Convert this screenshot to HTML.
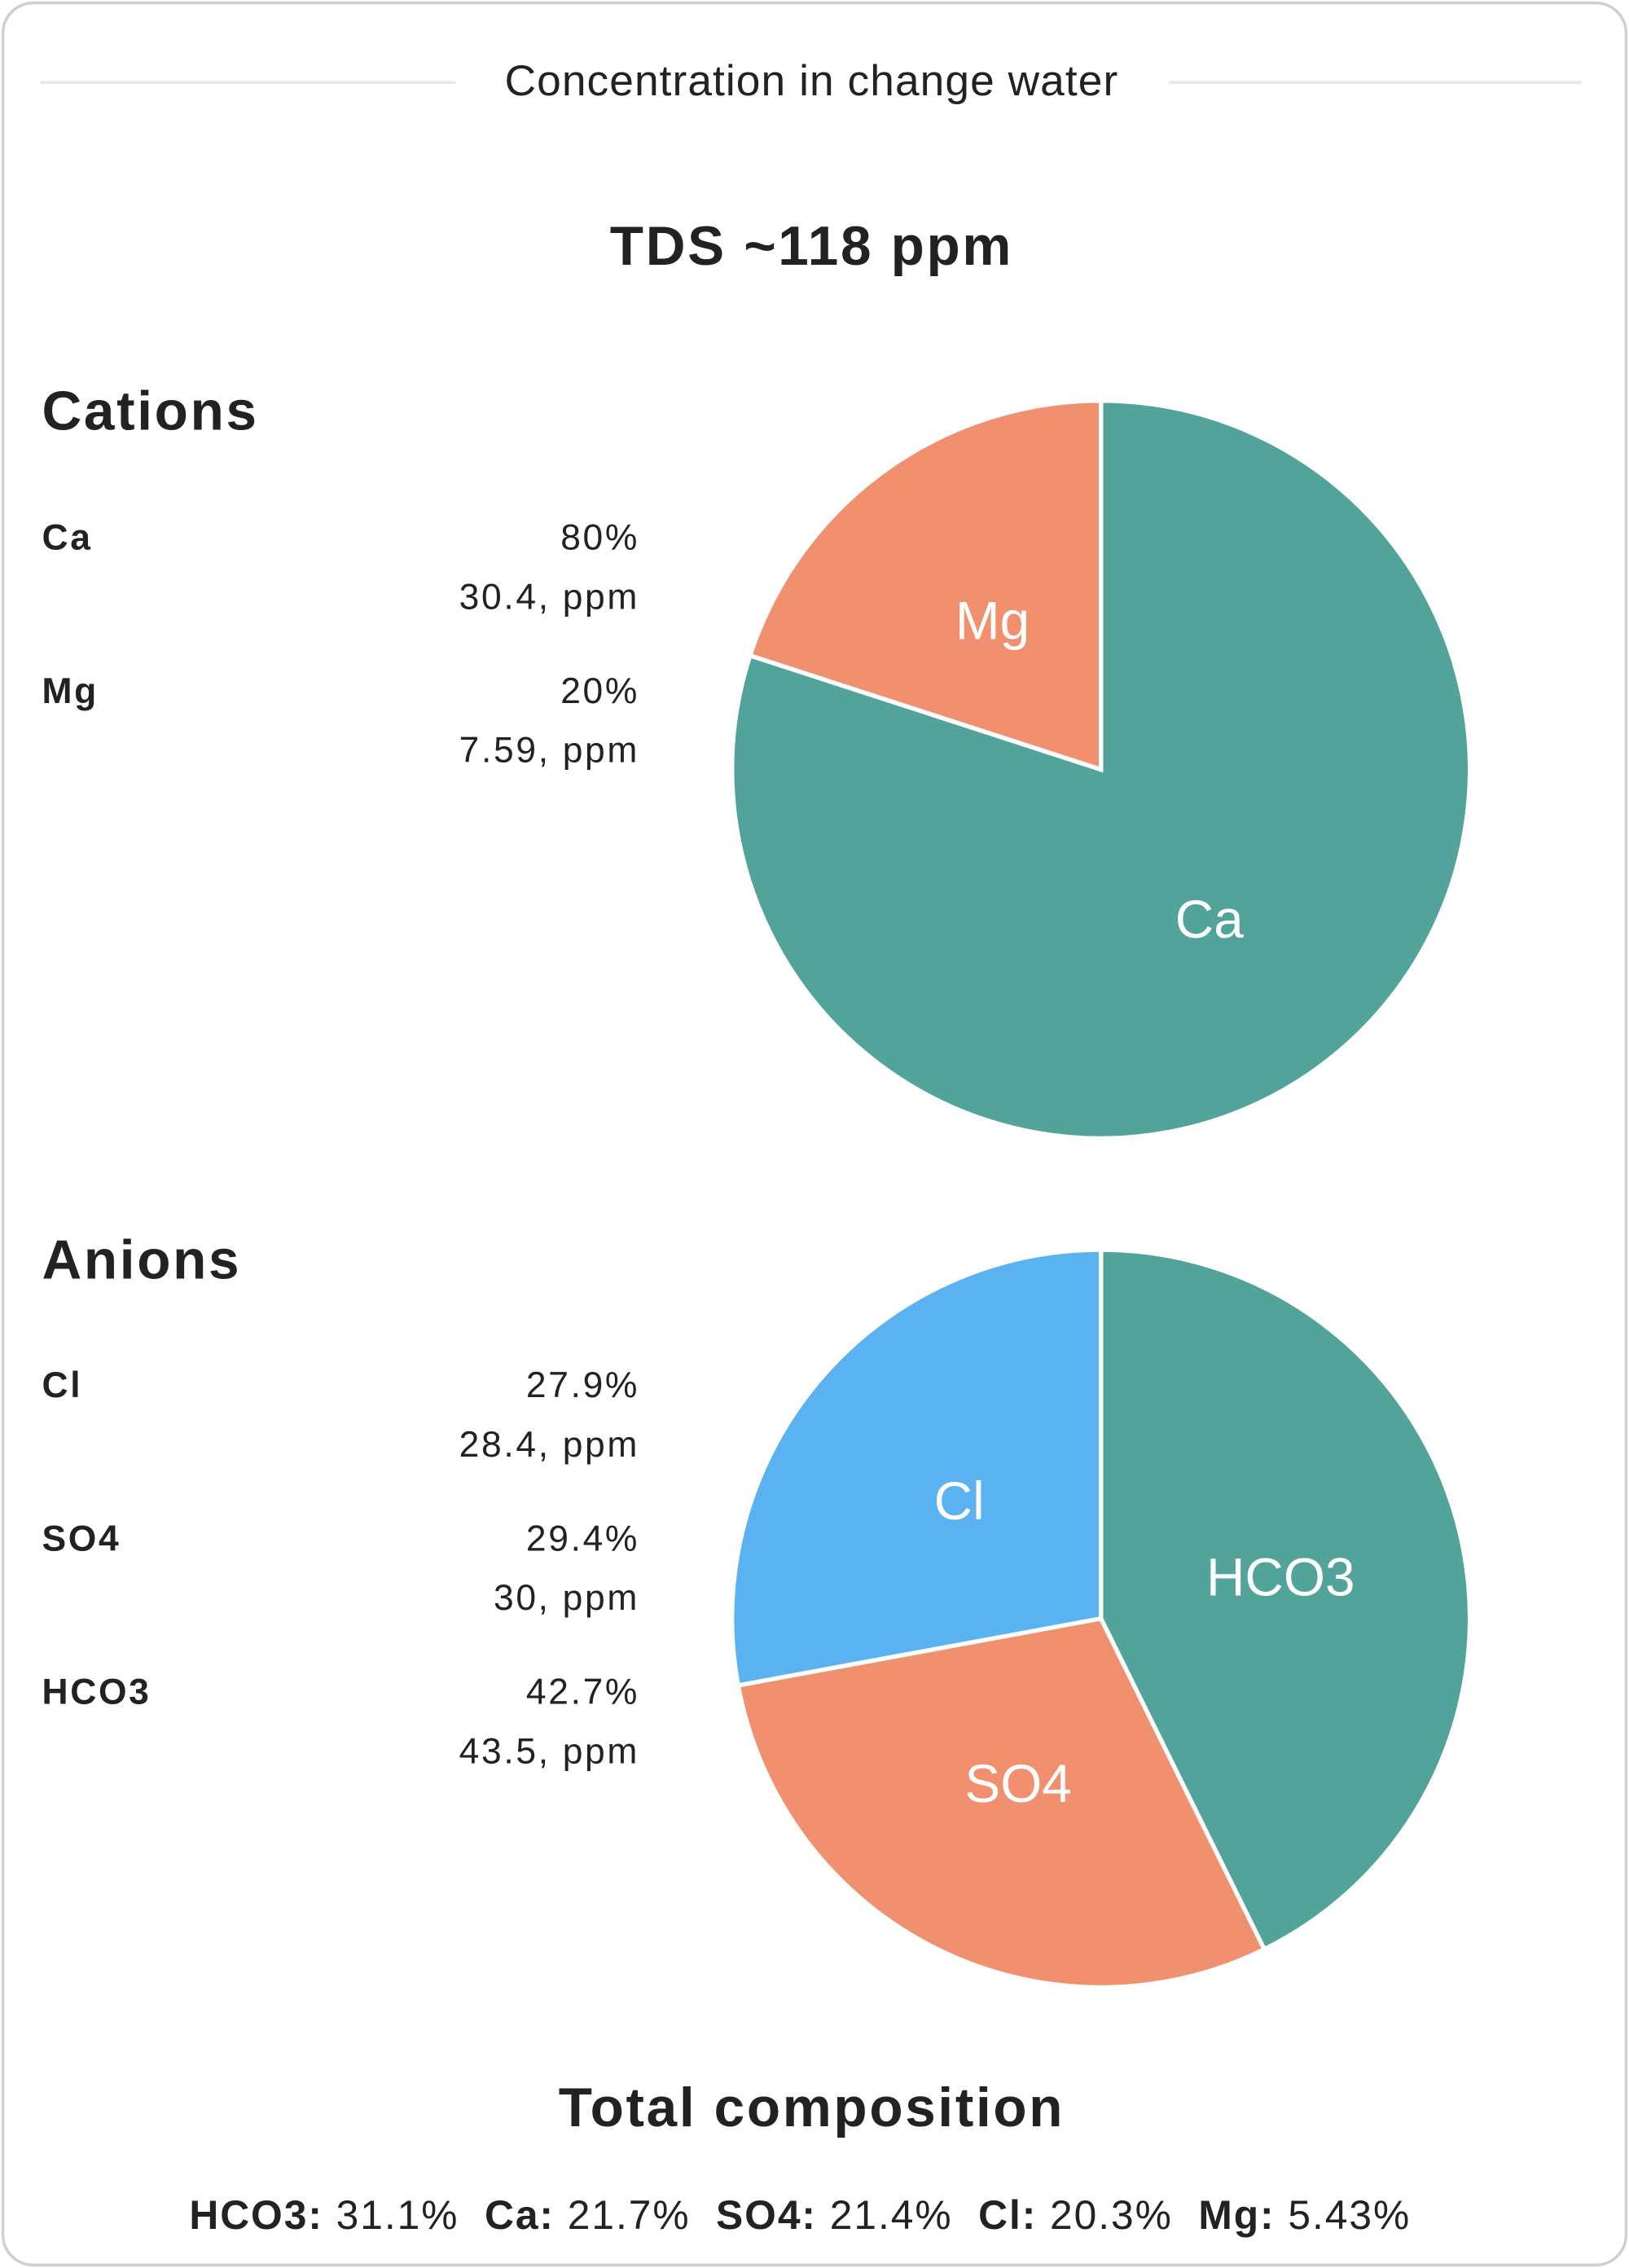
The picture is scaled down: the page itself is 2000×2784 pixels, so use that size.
<!DOCTYPE html>
<html><head><meta charset="utf-8">
<style>
html,body{margin:0;padding:0;background:#fff;width:2000px;height:2784px;overflow:hidden}
#wrap{position:absolute;left:0;top:0;width:1126px;height:1568px;transform:scale(1.7762,1.7755);transform-origin:0 0;font-family:"Liberation Sans",sans-serif;color:#222}
#card{position:absolute;left:1px;top:1px;width:1120px;height:1562px;border:2px solid #d0d0d0;border-radius:22px;background:#fff}
.t{position:absolute;white-space:nowrap}
.line{position:absolute;height:2px;background:#e8e8e8;top:56px}
.h{font-weight:bold;font-size:38px;letter-spacing:1.5px}
.lab{font-size:25px;left:29px;font-weight:bold;color:#222;letter-spacing:1.5px}
.val{font-size:25px;right:684px;text-align:right;color:#222;letter-spacing:1.5px}
</style></head><body>
<div id="wrap">
<div id="card"></div>
<div class="line" style="left:28px;width:287px"></div>
<div class="line" style="left:808px;width:285px"></div>
<div class="t" style="left:0;width:1122px;text-align:center;top:40px;font-size:30px;letter-spacing:0.6px">Concentration in change water</div>
<div class="t h" style="left:0;width:1122px;text-align:center;top:150px">TDS ~118 ppm</div>
<div class="t h" style="left:29px;top:264px">Cations</div>
<div class="t h" style="left:29px;top:851px">Anions</div>
<div class="t h" style="left:0;width:1122px;text-align:center;top:1437px">Total composition</div>
<div id="legends"></div>
<div class="t" id="total" style="left:0;width:1106px;text-align:center;top:1516px;font-size:28px;letter-spacing:1.1px"></div>
<svg id="pies" width="1126" height="1568" style="position:absolute;left:0;top:0"></svg>
</div>
<script>
const cationNames=["Ca","Mg"];
const cationPct=[80,20];
const cationPpm=["30.4","7.59"];
const anionNames=["HCO3","SO4","Cl"];
const anionPct=[42.7,29.4,27.9];
const anionPpm=["43.5","30","28.4"];
const legendOrderAnions=["Cl","SO4","HCO3"];
const totalNames=["HCO3","Ca","SO4","Cl","Mg"];
const totalPct=["31.1%","21.7%","21.4%","20.3%","5.43%"];
const colors={Ca:"#52a39a",Mg:"#f0906f",HCO3:"#52a39a",SO4:"#f0906f",Cl:"#5ab2f0"};
const NS="http://www.w3.org/2000/svg";
const svg=document.getElementById('pies');
function drawPie(names,vals,cx,cy,r,startFrac,tag){
  const tot=vals.reduce((a,b)=>a+b,0);
  let a0=startFrac;
  names.forEach((n,i)=>{
    const f=vals[i]/tot,a1=a0+f;
    const p=t=>[cx+r*Math.sin(t*2*Math.PI),cy-r*Math.cos(t*2*Math.PI)];
    const [x0,y0]=p(a0),[x1,y1]=p(a1);
    const path=document.createElementNS(NS,'path');
    path.setAttribute('d',`M${cx},${cy}L${x0},${y0}A${r},${r} 0 ${f>0.5?1:0} 1 ${x1},${y1}Z`);
    path.setAttribute('fill',colors[n]);path.setAttribute('stroke','#fff');path.setAttribute('stroke-width','3');
    
    
    svg.appendChild(path);
    const m=(a0+a1)/2;
    const tx=document.createElementNS(NS,'text');
    tx.setAttribute('x',cx+r*0.5*Math.sin(m*2*Math.PI));
    tx.setAttribute('y',cy-r*0.5*Math.cos(m*2*Math.PI)+13);
    tx.setAttribute('text-anchor','middle');tx.setAttribute('fill','#fff');
    tx.setAttribute('font-size','37');tx.setAttribute('font-family','Liberation Sans, sans-serif');
    tx.textContent=n;
    
    
    svg.appendChild(tx);
    a0=a1;
  });
}
drawPie(cationNames,cationPct,761,532,255,0,'cation');
drawPie(anionNames,anionPct,761,1119,255,0,'anion');
const lg=document.getElementById('legends');
function legend(name,pct,ppm,top){
  const a=document.createElement('div');a.className='t lab';a.style.top=(top-14)+'px';a.textContent=name;
  
  
  lg.appendChild(a);
  const b=document.createElement('div');b.className='t val';b.style.top=(top-14)+'px';b.textContent=pct+'%';
  
  
  lg.appendChild(b);
  const c=document.createElement('div');c.className='t val';c.style.top=(top+27)+'px';c.textContent=ppm+', ppm';
  
  
  lg.appendChild(c);
}
cationNames.forEach((n,i)=>legend(n,cationPct[i],cationPpm[i],372+i*106));
legendOrderAnions.forEach((n,k)=>{const i=anionNames.indexOf(n);legend(n,anionPct[i],anionPpm[i],958+k*106);});
const tot=document.getElementById('total');
tot.innerHTML=totalNames.map((n,i)=>`<b>${n}:</b> ${totalPct[i]}`).join('&nbsp;&nbsp;');
</script>
</body></html>
